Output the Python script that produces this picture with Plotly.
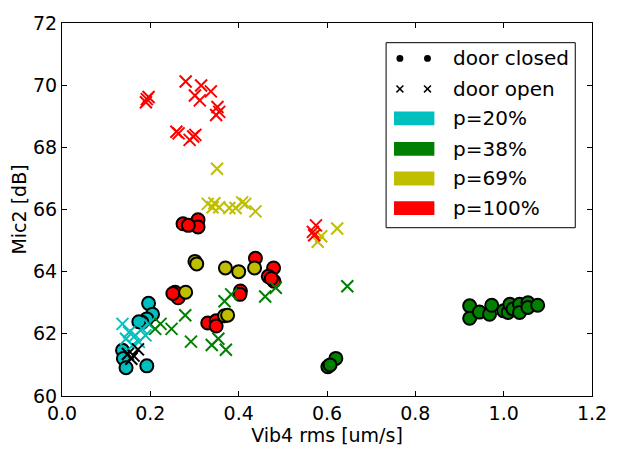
import plotly.graph_objects as go

# ---------------- data ----------------
c_closed_x = [0.196, 0.205, 0.192, 0.181, 0.174, 0.137, 0.139, 0.145, 0.192]
c_closed_y = [62.98, 62.63, 62.48, 62.37, 62.39, 61.47, 61.21, 60.91, 60.97]
c_open_x = [0.137, 0.152, 0.145, 0.166, 0.181, 0.189, 0.160, 0.174, 0.196]
c_open_y = [62.32, 62.05, 61.84, 61.95, 62.16, 61.95, 61.63, 61.74, 62.32]

k_open_x = [0.149, 0.157, 0.162, 0.172]
k_open_y = [61.35, 61.20, 61.30, 61.50]

g_closed_x = [0.620, 0.602, 0.607, 0.923, 0.923, 0.945, 0.968, 0.973, 1.000, 1.010,
              1.014, 1.021, 1.036, 1.036, 1.055, 1.055, 1.077]
g_closed_y = [61.21, 60.94, 61.00, 62.90, 62.50, 62.70, 62.63, 62.92, 62.74, 62.69,
              62.95, 62.80, 62.95, 62.69, 63.00, 62.85, 62.92]
g_open_x = [0.646, 0.484, 0.460, 0.368, 0.383, 0.354, 0.339, 0.371, 0.279, 0.248,
            0.292, 0.211, 0.223]
g_open_y = [63.53, 63.48, 63.20, 63.05, 63.27, 61.84, 61.64, 61.49, 62.60, 62.16,
            61.75, 62.16, 62.32]

y_closed_x = [0.301, 0.305, 0.370, 0.400, 0.436, 0.280, 0.368, 0.375]
y_closed_y = [64.33, 64.25, 64.12, 64.00, 64.12, 63.34, 62.58, 62.60]
y_open_x = [0.351, 0.330, 0.345, 0.341, 0.356, 0.379, 0.393, 0.408, 0.415, 0.438,
            0.623, 0.587, 0.579]
y_open_y = [67.31, 66.18, 66.20, 66.07, 66.07, 66.05, 66.05, 66.23, 66.18, 65.94,
            65.39, 65.14, 64.96]

r_closed_x = [0.274, 0.308, 0.308, 0.286, 0.438, 0.479, 0.467, 0.480, 0.474, 0.404,
              0.403, 0.330, 0.349, 0.349, 0.256, 0.263, 0.251]
r_closed_y = [65.54, 65.67, 65.44, 65.49, 64.43, 64.12, 63.85, 63.69, 63.78, 63.38,
              63.27, 62.35, 62.42, 62.25, 63.34, 63.16, 63.30]
r_open_x = [0.190, 0.196, 0.192, 0.280, 0.315, 0.337, 0.301, 0.312, 0.352, 0.356,
            0.349, 0.259, 0.264, 0.297, 0.289, 0.302, 0.575, 0.568, 0.571]
r_open_y = [69.45, 69.62, 69.55, 70.12, 69.99, 69.80, 69.67, 69.51, 69.30, 69.14,
            69.04, 68.50, 68.45, 68.35, 68.24, 68.40, 65.49, 65.28, 65.17]

legend_markers = ["door closed", "door open"]
legend_patches = ["p=20%", "p=38%", "p=69%", "p=100%"]

CYAN, GREEN, YELLOW, RED = "#00BFBF", "#008000", "#BFBF00", "#FF0000"
patch_colors = [CYAN, GREEN, YELLOW, RED]

W, H = 619, 453
ML, MR, MT, MB = 62, 19, 17, 57
PW, PH = W - ML - MR, H - MT - MB
FONT = "DejaVu Sans"
AX_FS = 19
LEG_FS = 20


def px(xp):
    return (xp - ML) / PW


def py(yp):
    return (H - MB - yp) / PH


fig = go.Figure()


def closed(x, y, color):
    fig.add_trace(go.Scatter(x=x, y=y, mode="markers", showlegend=False,
                             marker=dict(symbol="circle", size=13, color=color,
                                         line=dict(color="black", width=2))))


def opened(x, y, color):
    fig.add_trace(go.Scatter(x=x, y=y, mode="markers", showlegend=False,
                             marker=dict(symbol="x-thin", size=12, color=color,
                                         line=dict(color=color, width=2))))


closed(r_closed_x, r_closed_y, RED)
closed(y_closed_x, y_closed_y, YELLOW)
closed(g_closed_x, g_closed_y, GREEN)
closed(c_closed_x, c_closed_y, CYAN)
opened(c_open_x, c_open_y, CYAN)
opened(g_open_x, g_open_y, GREEN)
opened(y_open_x, y_open_y, YELLOW)
opened(r_open_x, r_open_y, RED)
opened(k_open_x, k_open_y, "black")

# ---------------- manual legend ----------------
shapes = []
annotations = []
shapes.append(dict(type="rect", xref="paper", yref="paper",
                   x0=px(391), x1=px(583), y0=py(225), y1=py(37),
                   line=dict(color="black", width=1), fillcolor="white", layer="above"))
text_x = px(457)
row_y = [53, 84, 114, 145, 175, 205]
for i, lab in enumerate(legend_markers):
    yc = row_y[i]
    for xc in (405, 433):
        if i == 0:
            shapes.append(dict(type="circle", xref="paper", yref="paper",
                               x0=px(xc - 3.5), x1=px(xc + 3.5),
                               y0=py(yc + 3.5), y1=py(yc - 3.5),
                               fillcolor="black", line=dict(color="black", width=0),
                               layer="above"))
        else:
            for (a, b) in ((-3.5, 3.5), (3.5, -3.5)):
                shapes.append(dict(type="line", xref="paper", yref="paper",
                                   x0=px(xc - 3.5), x1=px(xc + 3.5),
                                   y0=py(yc + a), y1=py(yc + b),
                                   line=dict(color="black", width=1.5), layer="above"))
    annotations.append(dict(x=text_x, y=py(yc), xref="paper", yref="paper",
                            text=lab, showarrow=False, xanchor="left", yanchor="middle",
                            font=dict(family=FONT, size=LEG_FS, color="black")))
for j, lab in enumerate(legend_patches):
    yc = row_y[2 + j]
    shapes.append(dict(type="rect", xref="paper", yref="paper",
                       x0=px(399), x1=px(440), y0=py(yc + 7), y1=py(yc - 7),
                       fillcolor=patch_colors[j], line=dict(color=patch_colors[j], width=0),
                       layer="above"))
    annotations.append(dict(x=text_x, y=py(yc), xref="paper", yref="paper",
                            text=lab, showarrow=False, xanchor="left", yanchor="middle",
                            font=dict(family=FONT, size=LEG_FS, color="black")))

axis_common = dict(showline=True, linecolor="black", linewidth=1, mirror="ticks",
                   ticks="inside", ticklen=5, tickcolor="black", tickwidth=1,
                   showgrid=False, zeroline=False,
                   tickfont=dict(family=FONT, size=AX_FS, color="black"))

fig.update_layout(
    width=W, height=H,
    margin=dict(l=ML, r=MR, t=MT, b=MB),
    paper_bgcolor="white", plot_bgcolor="white",
    showlegend=False,
    shapes=shapes, annotations=annotations,
    xaxis=dict(range=[0, 1.2], dtick=0.2, tick0=0, tickformat=".1f",
               title=dict(text="Vib4 rms [um/s]", font=dict(family=FONT, size=AX_FS, color="black"),
                          standoff=4),
               **axis_common),
    yaxis=dict(range=[60, 72], dtick=2, tick0=60,
               title=dict(text="Mic2 [dB]", font=dict(family=FONT, size=AX_FS, color="black"),
                          standoff=1),
               **axis_common),
)

fig.write_html("out.html")
